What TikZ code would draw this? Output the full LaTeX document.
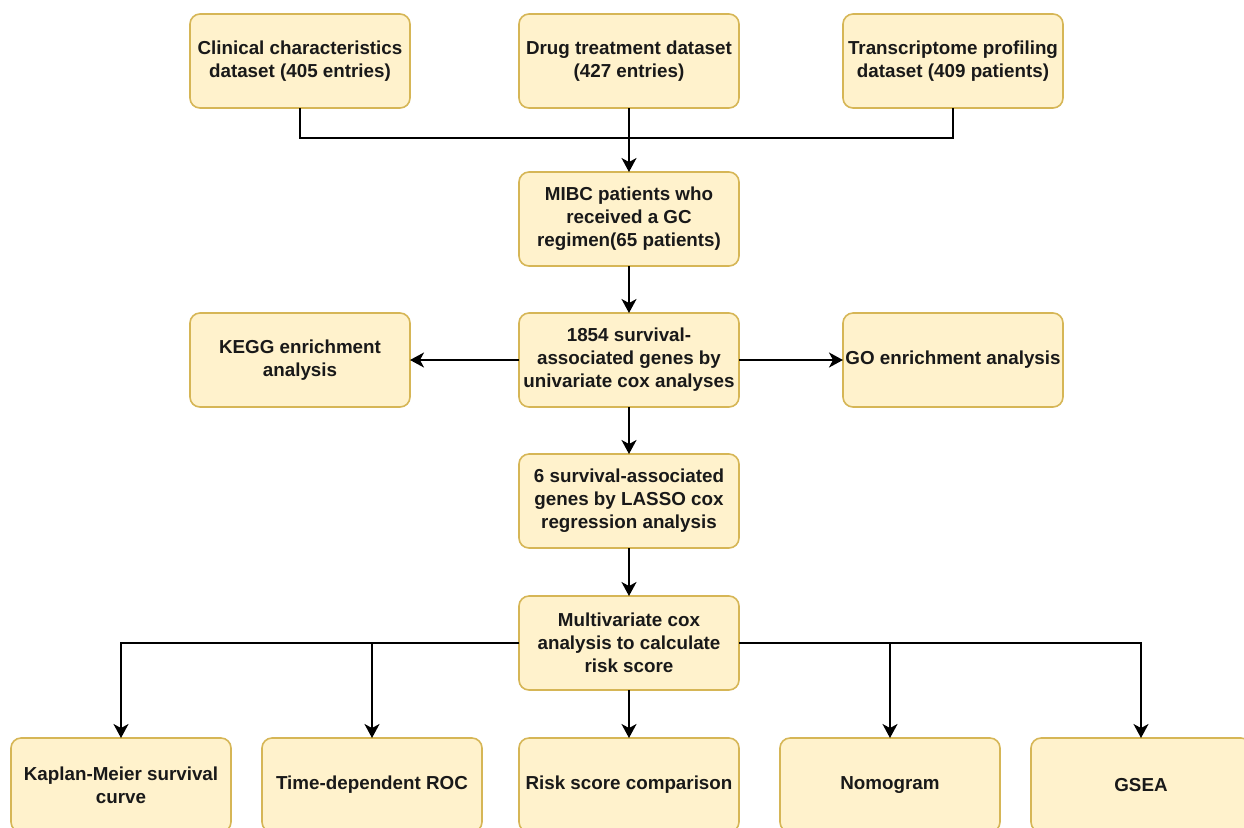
\documentclass[tikz,border=0pt]{standalone}
\usepackage{fontspec}
\setmainfont{Liberation Sans}
\usetikzlibrary{arrows.meta, positioning, calc}

\definecolor{boxfill}{HTML}{FFF2CC}
\definecolor{boxline}{HTML}{D6B656}
\tikzset{
    stepbox/.style={draw=boxline, line width=0.8pt, fill=boxfill, rounded corners=5pt,
        minimum width=110pt, minimum height=47pt, inner sep=1pt, outer sep=0pt, align=center,
        font=\fontsize{9.4}{11.5}\selectfont\bfseries, text=black!90},
    flow/.style={-{Stealth[length=7pt, width=7.5pt, inset=2pt]}, line width=0.9pt},
    link/.style={line width=0.9pt}
}

\begin{document}
\begin{tikzpicture}[x=0.5pt, y=-0.5pt]
        \useasboundingbox (0,0) rectangle (1244,827);
        % input datasets
        \node[stepbox] (drug) at (629,61) {Drug treatment dataset\\(427 entries)};
        \node[stepbox, left=54.5pt of drug] (clin) {Clinical characteristics\\dataset (405 entries)};
        \node[stepbox, right=52pt of drug] (trans) {Transcriptome profiling\\dataset (409 patients)};
        \node[stepbox, below=32pt of drug] (mibc) {MIBC patients who\\received a GC\\regimen(65 patients)};
        \node[stepbox, below=23.5pt of mibc] (surv) {1854 survival-\\associated genes by\\univariate cox analyses};
        \node[stepbox, left=54.5pt of surv] (kegg) {KEGG enrichment\\analysis};
        \node[stepbox, right=52pt of surv] (go) {GO enrichment analysis};
        \node[stepbox, below=23.5pt of surv] (lasso) {6 survival-associated\\genes by LASSO cox\\regression analysis};
        \node[stepbox, below=24pt of lasso] (multi) {Multivariate cox\\analysis to calculate\\risk score};
        % outcome analyses
        \node[stepbox, below=24pt of multi] (risk) {Risk score comparison};
        \node[stepbox, left=18.5pt of risk] (roc) {Time-dependent ROC};
        \node[stepbox, left=15.5pt of roc] (km) {Kaplan-Meier survival\\curve};
        \node[stepbox, right=20.5pt of risk] (nomo) {Nomogram};
        \node[stepbox, right=15.5pt of nomo] (gsea) {GSEA};

        \coordinate (join) at ($(drug.south)!0.47!(mibc.north)$);
        \draw[link] (clin.south) |- (join) -| (trans.south);
        \draw[flow] (drug.south) -- (mibc.north);
        \draw[flow] (mibc) -- (surv);
        \draw[flow] (surv) -- (kegg);
        \draw[flow] (surv) -- (go);
        \draw[flow] (surv) -- (lasso);
        \draw[flow] (lasso) -- (multi);
        \draw[flow] (multi) -- (risk);
        \draw[flow] (multi.west) -| (km.north);
        \draw[flow] (multi.west) -| (roc.north);
        \draw[flow] (multi.east) -| (nomo.north);
        \draw[flow] (multi.east) -| (gsea.north);
    \end{tikzpicture}
\end{document}
